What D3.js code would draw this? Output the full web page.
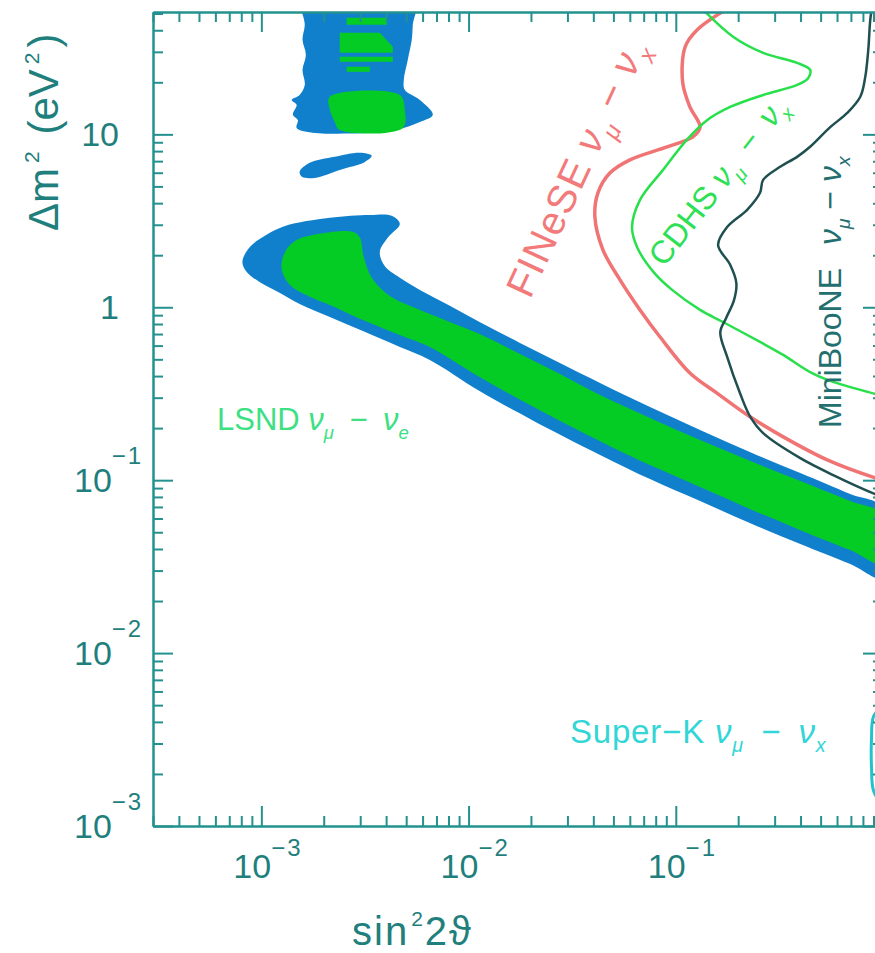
<!DOCTYPE html>
<html>
<head>
<meta charset="utf-8">
<script src="https://cdn.jsdelivr.net/npm/d3@7"></script>
<style>
  body { margin: 0; background: #fff; }
  svg { display: block; font-family: "Liberation Sans", Arial, Helvetica, sans-serif; }
</style>
</head>
<body>
<svg id="chart" width="875" height="953"></svg>
<script>
// all points are [sin^2 2theta, dm^2 (eV^2)]

// LSND 99% (outer, blue)
var lsnd99Band = [
  [8.1e-4, 1.83], [8.8e-4, 2.23], [1.04e-3, 2.59], [1.30e-3, 2.95], [2.14e-3, 3.29],
  [3.34e-3, 3.42], [4.26e-3, 3.38], [4.66e-3, 3.03], [4.07e-3, 2.52], [3.73e-3, 2.09],
  [3.94e-3, 1.73], [4.66e-3, 1.48], [5.82e-3, 1.26], [8.12e-3, 1.02], [1.13e-2, 0.822],
  [1.77e-2, 0.622], [2.76e-2, 0.476], [4.31e-2, 0.365], [7.51e-2, 0.265], [0.131, 0.195],
  [0.229, 0.145], [0.399, 0.110], [0.695, 0.0831], [1.0, 0.069],
  [1.0, 0.0271], [0.695, 0.0327], [0.399, 0.0427], [0.229, 0.0564], [0.131, 0.0757],
  [7.51e-2, 0.1015], [4.31e-2, 0.14], [1.98e-2, 0.226], [1.13e-2, 0.328], [6.5e-3, 0.496],
  [4.66e-3, 0.589], [3.09e-3, 0.729], [2.14e-3, 0.879], [1.53e-3, 1.045], [1.23e-3, 1.21],
  [9.8e-4, 1.40], [8.5e-4, 1.60]
];
var lsnd99High = [
  [1.58e-3, 60], [5.5e-3, 60], [5.38e-3, 43.0], [5.32e-3, 35.2], [5.09e-3, 27.0],
  [4.87e-3, 20.7], [4.92e-3, 18.1], [5.82e-3, 15.8], [6.72e-3, 13.0], [5.82e-3, 11.8],
  [4.41e-3, 10.6], [2.67e-3, 10.1], [1.71e-3, 10.3], [1.48e-3, 10.9], [1.50e-3, 12.1],
  [1.42e-3, 13.0], [1.48e-3, 14.8], [1.40e-3, 15.8], [1.53e-3, 16.9], [1.62e-3, 19.3],
  [1.58e-3, 23.6], [1.64e-3, 28.8], [1.58e-3, 35.2], [1.62e-3, 43.0]
];
var lsnd99Island = [
  [1.53e-3, 6.07], [1.71e-3, 6.84], [2.26e-3, 7.41], [2.99e-3, 7.82], [3.41e-3, 7.51],
  [3.16e-3, 6.93], [2.39e-3, 6.23], [1.81e-3, 5.60], [1.57e-3, 5.68]
];

// LSND 90% (inner, green)
var lsnd90Band = [
  [1.25e-3, 1.71], [1.32e-3, 2.15], [1.48e-3, 2.45], [1.77e-3, 2.62], [2.76e-3, 2.73],
  [2.99e-3, 2.52], [3.12e-3, 1.95], [3.41e-3, 1.48], [4.17e-3, 1.16], [5.82e-3, 0.965],
  [8.12e-3, 0.822], [1.13e-2, 0.70], [1.77e-2, 0.537], [2.76e-2, 0.411], [4.31e-2, 0.311],
  [7.51e-2, 0.229], [0.131, 0.1706], [0.229, 0.129], [0.399, 0.0988], [0.695, 0.0757],
  [1.0, 0.0628],
  [1.0, 0.0327], [0.695, 0.0394], [0.399, 0.0514], [0.229, 0.068], [0.131, 0.0912],
  [7.51e-2, 0.1223], [4.31e-2, 0.168], [1.98e-2, 0.272], [1.13e-2, 0.395], [6.5e-3, 0.589],
  [4.66e-3, 0.691], [3.09e-3, 0.844], [2.14e-3, 1.031], [1.77e-3, 1.13], [1.37e-3, 1.35]
];
var lsnd90High = [
  [[2.14e-3, 16.5], [4.66e-3, 16.9], [4.92e-3, 13.9], [4.82e-3, 10.9], [2.39e-3, 10.6], [2.26e-3, 11.8], [2.14e-3, 13.9]],
  [[2.39e-3, 38.7], [3.73e-3, 38.7], [4.31e-3, 32.1], [4.31e-3, 29.6], [2.39e-3, 29.6]],
  [[2.39e-3, 28.1], [4.31e-3, 28.1], [4.31e-3, 26.3], [2.39e-3, 26.3]],
  [[2.58e-3, 24.6], [3.34e-3, 24.6], [3.34e-3, 23.0], [2.58e-3, 23.0]],
  [[2.58e-3, 47.2], [4.03e-3, 47.2], [4.03e-3, 43.0], [2.58e-3, 43.0]]
];

// exclusion / sensitivity curves
var finese = [
  [0.19, 56], [0.127, 40.3], [0.111, 32.1], [0.108, 19.9], [0.117, 14.4], [0.131, 11.0],
  [0.121, 9.67], [0.0908, 8.47], [0.0601, 7.12], [0.0482, 5.99], [0.0421, 4.59],
  [0.0407, 3.33], [0.0445, 2.15], [0.0538, 1.44], [0.0672, 0.965], [0.084, 0.673],
  [0.117, 0.417], [0.158, 0.319], [0.229, 0.232], [0.33, 0.178], [0.538, 0.131],
  [0.918, 0.103], [1.0, 0.1]
];
var cdhs = [
  [0.125, 58], [0.189, 36.7], [0.264, 29.6], [0.385, 25.9], [0.445, 23.6], [0.436, 21.2],
  [0.385, 19.3], [0.264, 16.9], [0.183, 14.4], [0.142, 12.1], [0.113, 9.29], [0.0868, 6.23],
  [0.0672, 4.18], [0.0615, 2.91], [0.065, 2.23], [0.0787, 1.58], [0.096, 1.26], [0.131, 0.965],
  [0.169, 0.822], [0.255, 0.63], [0.33, 0.53], [0.445, 0.422], [0.575, 0.37], [0.918, 0.315],
  [1.0, 0.305]
];
var miniboone = [
  [0.888, 56], [0.868, 45.9], [0.849, 30.8], [0.821, 21.5], [0.777, 16.5], [0.672, 13.3],
  [0.556, 11.0], [0.445, 8.47], [0.385, 7.41], [0.319, 6.49], [0.264, 5.45], [0.255, 4.59],
  [0.221, 3.66], [0.177, 2.91], [0.160, 2.29], [0.183, 1.76], [0.196, 1.38], [0.191, 1.10],
  [0.175, 0.867], [0.164, 0.719], [0.177, 0.516], [0.204, 0.319], [0.229, 0.232],
  [0.264, 0.187], [0.399, 0.134], [0.575, 0.107], [0.918, 0.083], [1.0, 0.08]
];
var superK = [
  [1.0, 1.3e-3], [0.9, 1.6e-3], [0.88, 2.2e-3], [0.88, 3.2e-3], [0.9, 4.3e-3], [1.0, 5.0e-3]
];

// tick labels: value, base, exponent
var xTickLabels = [[1e-3, '10', '\u22123'], [1e-2, '10', '\u22122'], [1e-1, '10', '\u22121']];
var yTickLabels = [[1e-3, '10', '\u22123'], [1e-2, '10', '\u22122'], [1e-1, '10', '\u22121'], [1, '1', ''], [10, '10', '']];

var axisColor = '#23918f';
var labelColor = '#1f7f7d';

var plotLeft = 153, plotRight = 883, plotTop = 12, plotBottom = 826;

var svg = d3.select('#chart');
svg.append('rect').attr('width', 875).attr('height', 953).attr('fill', '#fff');

var x = d3.scaleLog().domain([3e-4, 1]).range([plotLeft, plotRight]);
var y = d3.scaleLog().domain([1e-3, 51]).range([plotBottom, plotTop]);

svg.append('clipPath').attr('id', 'plot')
  .append('rect').attr('x', plotLeft).attr('y', plotTop)
  .attr('width', plotRight - plotLeft).attr('height', plotBottom - plotTop);

var plot = svg.append('g').attr('clip-path', 'url(#plot)');

var smooth = d3.line().x(function (d) { return x(d[0]); }).y(function (d) { return y(d[1]); })
  .curve(d3.curveCatmullRomClosed);
var blocky = d3.line().x(function (d) { return x(d[0]); }).y(function (d) { return y(d[1]); })
  .curve(d3.curveLinearClosed);
var open = d3.line().x(function (d) { return x(d[0]); }).y(function (d) { return y(d[1]); })
  .curve(d3.curveCatmullRom);

var blue = '#1180cc', green = '#05cc25';

[lsnd99Band, lsnd99High, lsnd99Island].forEach(function (poly) {
  plot.append('path').attr('d', smooth(poly)).attr('fill', blue);
});
plot.append('path').attr('d', smooth(lsnd90Band)).attr('fill', green);
lsnd90High.forEach(function (poly, i) {
  plot.append('path').attr('d', i === 0 ? smooth(poly) : blocky(poly)).attr('fill', green);
});

function curve(data, color, width) {
  plot.append('path').attr('d', open(data))
    .attr('fill', 'none').attr('stroke', color).attr('stroke-width', width)
    .attr('stroke-linejoin', 'round');
}
curve(finese, '#f07474', 3.5);
curve(cdhs, '#28e04c', 2.5);
curve(miniboone, '#1f4f50', 2.5);
curve(superK, '#22c4cc', 3);

// axes
function isMajor(v) {
  var l = Math.log10(v);
  return Math.abs(l - Math.round(l)) < 1e-6;
}
var xMinor = x.ticks().filter(function (v) { return !isMajor(v); });
var xMajor = x.ticks().filter(isMajor);
var yMinor = y.ticks().filter(function (v) { return !isMajor(v); });
var yMajor = y.ticks().filter(isMajor);

function axis(gen, at, values, size) {
  var g = svg.append('g').attr('transform', at)
    .call(gen.tickValues(values).tickSize(-size).tickSizeOuter(0).tickFormat(''));
  g.selectAll('path, line').attr('stroke', axisColor).attr('stroke-width', 2);
  return g;
}
axis(d3.axisBottom(x), 'translate(0,' + plotBottom + ')', xMinor, 10);
axis(d3.axisBottom(x), 'translate(0,' + plotBottom + ')', xMajor, 20);
axis(d3.axisTop(x), 'translate(0,' + plotTop + ')', xMinor, 10);
axis(d3.axisTop(x), 'translate(0,' + plotTop + ')', xMajor, 20);
axis(d3.axisLeft(y), 'translate(' + plotLeft + ',0)', yMinor, 10);
axis(d3.axisLeft(y), 'translate(' + plotLeft + ',0)', yMajor, 20);
axis(d3.axisRight(y), 'translate(' + plotRight + ',0)', yMinor, 10);
axis(d3.axisRight(y), 'translate(' + plotRight + ',0)', yMajor, 20);

// text with sub/superscripts: parts are [text, kind, dx], kind n|i|s|u
function richText(sel, parts, o) {
  var t = sel.append('text').attr('font-size', o.size).attr('fill', o.color)
    .attr('letter-spacing', o.spacing || 0);
  var shift = 0;
  parts.forEach(function (p) {
    var ts = t.append('tspan').text(p[0]);
    var want = p[1] === 's' ? o.size * 0.28 : (p[1] === 'u' ? -o.supRaise : 0);
    ts.attr('dy', want - shift);
    if (p[2]) ts.attr('dx', p[2]);
    shift = want;
    if (p[1] === 's') ts.attr('font-size', o.size * 0.6).attr('font-style', 'italic');
    if (p[1] === 'u') ts.attr('font-size', o.supSize).attr('letter-spacing', o.supSpacing || 0);
    if (p[1] === 'i') ts.attr('font-style', 'italic');
  });
  return t;
}

xTickLabels.forEach(function (d) {
  var g = svg.append('g').attr('transform', 'translate(' + (x(d[0]) - 28) + ',878)');
  richText(g, [[d[1], 'n'], [d[2], 'u']],
    { size: 34, color: labelColor, supRaise: 22, supSize: 24, supSpacing: 2 });
});
yTickLabels.forEach(function (d) {
  var yy = y(d[0]) + 12;
  if (d[2]) {
    var g = svg.append('g').attr('transform', 'translate(74,' + yy + ')');
    richText(g, [[d[1], 'n'], [d[2], 'u']],
      { size: 34, color: labelColor, supRaise: 28, supSize: 24, supSpacing: 2 });
  } else {
    svg.append('text').attr('x', 119).attr('y', yy).attr('text-anchor', 'end')
      .attr('font-size', 34).attr('fill', labelColor).text(d[1]);
  }
});

// axis titles
richText(svg.append('g').attr('transform', 'translate(352,945)'),
  [['sin', 'n'], ['2', 'u', 2], ['2\u03d1', 'n', 2]],
  { size: 40, color: labelColor, spacing: 2, supRaise: 19, supSize: 21 });
richText(svg.append('g').attr('transform', 'translate(58,231) rotate(-90)'),
  [['\u0394m', 'n'], ['2', 'u', 5], [' (eV', 'n', 5], ['2', 'u', 5], [')', 'n', 5]],
  { size: 42, color: labelColor, supRaise: 19, supSize: 21 });

// curve / region labels
var nu = '\u03bd', mu = '\u03bc';
var minus = ' \u2212 ', wideMinus = '\u2002\u2212\u2002';
richText(svg.append('g').attr('transform', 'translate(217,430)'),
  [['LSND ', 'n'], [nu, 'i'], [mu, 's'], [wideMinus, 'n'], [nu, 'i'], ['e', 's']],
  { size: 31, color: '#3de082' });
richText(svg.append('g').attr('transform', 'translate(570,743)'),
  [['Super\u2212K ', 'n'], [nu, 'i'], [mu, 's'], [wideMinus, 'n'], [nu, 'i'], ['x', 's']],
  { size: 33, color: '#33d6d6', spacing: 0.8 });
richText(svg.append('g').attr('transform', 'translate(530,300) rotate(-65)'),
  [['FINeSE ', 'n'], [nu, 'i'], [mu, 's'], [minus, 'n'], [nu, 'i'], ['x', 's']],
  { size: 40, color: '#f27a7a', spacing: 1.2 });
richText(svg.append('g').attr('transform', 'translate(664,268) rotate(-52)'),
  [['CDHS ', 'n'], [nu, 'i'], [mu, 's'], [wideMinus, 'n'], [nu, 'i'], ['x', 's']],
  { size: 32, color: '#2ee055' });
richText(svg.append('g').attr('transform', 'translate(841,428) rotate(-90)'),
  [['MiniBooNE ', 'n'], [nu, 'i', 14], [mu, 's'], [minus, 'n'], [nu, 'i'], ['x', 's']],
  { size: 32, color: '#236f70' });
</script>
</body>
</html>
